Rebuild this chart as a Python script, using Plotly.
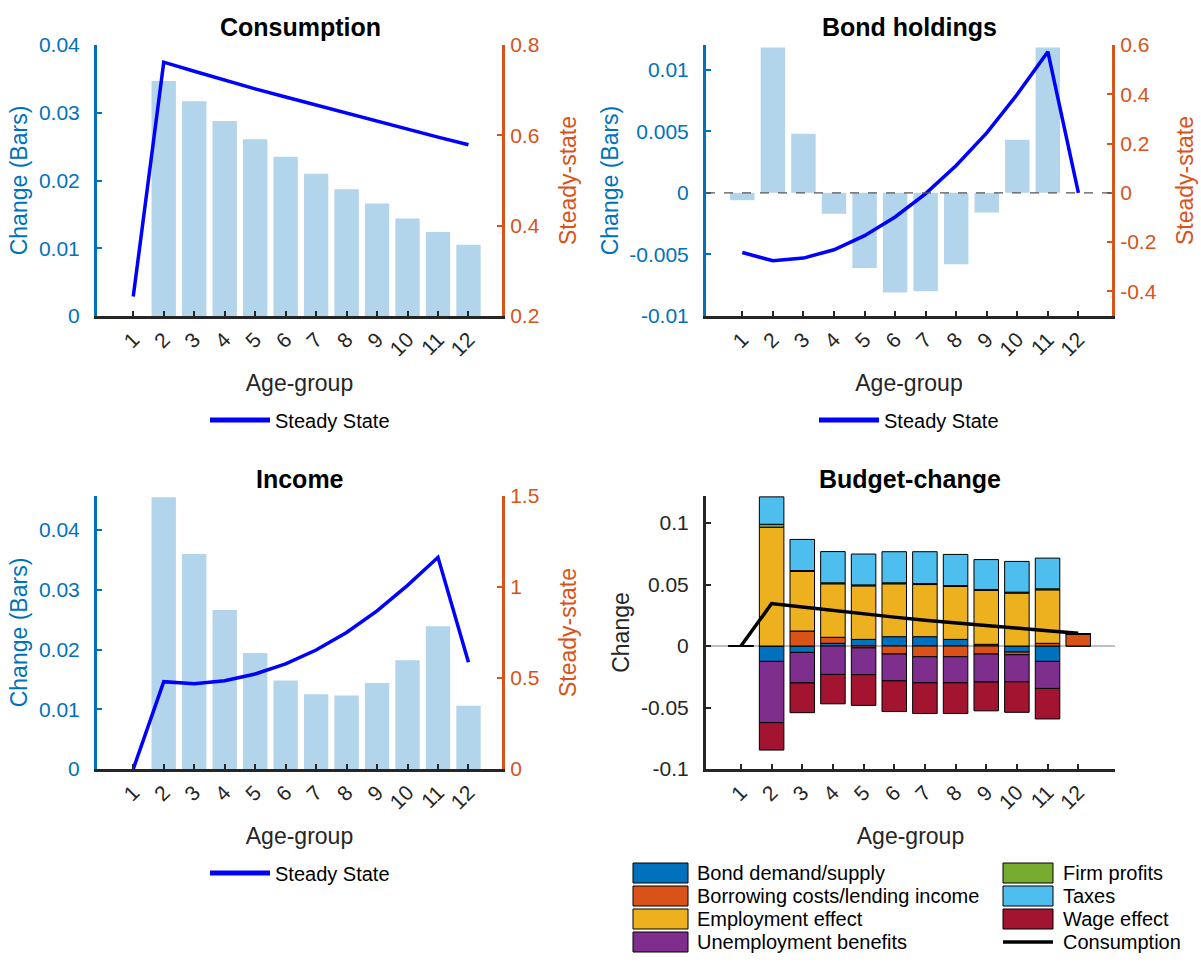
import plotly.graph_objects as go

# ---------------- data ----------------
ages = list(range(1, 13))
age_labels = [str(a) for a in ages]

# Consumption
cons_bar_x = list(range(2, 13))
cons_change = [0.0347, 0.0317, 0.0288, 0.0261, 0.0235, 0.0210, 0.0187, 0.0166, 0.0144, 0.0124, 0.0105]
cons_ss = [0.243, 0.762, 0.742, 0.722, 0.703, 0.685, 0.667, 0.649, 0.630, 0.613, 0.596, 0.579]

# Bond holdings
bond_bar_x = list(range(1, 12))
bond_change = [-0.0006, 0.0118, 0.0048, -0.0017, -0.0061, -0.0081, -0.0080, -0.0058, -0.0016, 0.0043, 0.0118]
bond_ss = [-0.242, -0.276, -0.265, -0.231, -0.174, -0.098, -0.003, 0.111, 0.243, 0.400, 0.573, 0.0]

# Income
inc_bar_x = list(range(2, 13))
inc_change = [0.0455, 0.0360, 0.0266, 0.0194, 0.0148, 0.0125, 0.0123, 0.0144, 0.0182, 0.0239, 0.0106]
inc_ss = [0.0, 0.480, 0.469, 0.485, 0.522, 0.578, 0.654, 0.750, 0.869, 1.009, 1.163, 0.587]

# Budget-change decomposition (age groups 1..12)
bud_bond = [0, -0.0125, -0.0052, 0.0022, 0.0054, 0.0076, 0.0076, 0.0054, 0.0014, -0.0049, -0.0125, 0]
bud_borrow = [0, 0, 0.0122, 0.0049, -0.0015, -0.0065, -0.0087, -0.0087, -0.0065, -0.0022, 0.0022, 0.0098]
bud_employ = [0, 0.0966, 0.0484, 0.0435, 0.0435, 0.0430, 0.0424, 0.0430, 0.0438, 0.0430, 0.0435, 0]
bud_unemp = [0, -0.0498, -0.0248, -0.0231, -0.0218, -0.0218, -0.0212, -0.0212, -0.0228, -0.0220, -0.0220, 0]
bud_firm = [0, 0.0024, 0.0008, 0.0008, 0.0008, 0.0008, 0.0008, 0.0008, 0.0008, 0.0008, 0.0008, 0]
bud_taxes = [0, 0.0223, 0.0253, 0.0254, 0.0251, 0.0253, 0.0259, 0.0253, 0.0243, 0.0250, 0.0250, 0]
bud_wage = [0, -0.0223, -0.0242, -0.0239, -0.0250, -0.0250, -0.0250, -0.0250, -0.0234, -0.0248, -0.0248, 0]
bud_cons = [0.0, 0.0345, 0.0317, 0.0288, 0.0261, 0.0235, 0.0210, 0.0187, 0.0166, 0.0144, 0.0124, 0.0103]

budget_names = ["Bond demand/supply", "Borrowing costs/lending income", "Employment effect",
                "Unemployment benefits", "Firm profits", "Taxes", "Wage effect"]
budget_values = [bud_bond, bud_borrow, bud_employ, bud_unemp, bud_firm, bud_taxes, bud_wage]
budget_colors = ["#0072BD", "#D95319", "#EDB120", "#7E2F8E", "#77AC30", "#4DBEEE", "#A2142F"]

# ---------------- style ----------------
W, H = 1201, 962
BLUE_AX = "#0072BD"
ORANGE_AX = "#D95319"
DARK = "#262626"
BAR_LIGHT = "#B3D5EB"
FONT = "Liberation Sans, Arial, Helvetica, sans-serif"
TICK_FS = 21
LABEL_FS = 23
TITLE_FS = 25
LEG_FS = 20


def xd(a, b):
    return [a / W, b / W]


def yd(top, bottom):
    return [1 - bottom / H, 1 - top / H]


def px(x):
    return x / W


def py(y):
    return 1 - y / H


def fmt(v):
    return "%g" % v


fig = go.Figure()

# Consumption
fig.add_trace(go.Bar(x=cons_bar_x, y=cons_change, width=0.8, marker=dict(color=BAR_LIGHT, line=dict(width=0)),
                     xaxis="x", yaxis="y", showlegend=False))
fig.add_trace(go.Scatter(x=ages, y=cons_ss, mode="lines", line=dict(color="#0000FF", width=3.5),
                         name="Steady State", xaxis="x", yaxis="y2", legend="legend"))

# Bond holdings
fig.add_trace(go.Bar(x=bond_bar_x, y=bond_change, width=0.8, marker=dict(color=BAR_LIGHT, line=dict(width=0)),
                     xaxis="x2", yaxis="y3", showlegend=False))
fig.add_trace(go.Scatter(x=ages, y=bond_ss, mode="lines", line=dict(color="#0000FF", width=3.5),
                         name="Steady State", xaxis="x2", yaxis="y4", legend="legend2"))

# Income
fig.add_trace(go.Bar(x=inc_bar_x, y=inc_change, width=0.8, marker=dict(color=BAR_LIGHT, line=dict(width=0)),
                     xaxis="x3", yaxis="y5", showlegend=False))
fig.add_trace(go.Scatter(x=ages, y=inc_ss, mode="lines", line=dict(color="#0000FF", width=3.5),
                         name="Steady State", xaxis="x3", yaxis="y6", legend="legend3"))

# Budget-change (stacked)
for name, vals, col in zip(budget_names, budget_values, budget_colors):
    fig.add_trace(go.Bar(x=ages, y=vals, width=0.8, name=name,
                         marker=dict(color=col, line=dict(color="#000000", width=1)),
                         xaxis="x4", yaxis="y7", showlegend=False))
fig.add_trace(go.Scatter(x=ages, y=bud_cons, mode="lines", line=dict(color="#000000", width=3.5),
                         name="Consumption", xaxis="x4", yaxis="y7", showlegend=False))


def xaxis_cfg(domain, anchor, rng):
    return dict(domain=domain, anchor=anchor, range=rng, tickmode="array", tickvals=ages, ticktext=age_labels,
                tickangle=-45, showline=True, linecolor=DARK, linewidth=3, ticks="inside", ticklen=5,
                tickwidth=1.5, tickcolor=DARK, tickfont=dict(size=TICK_FS, color=DARK, family=FONT),
                showgrid=False, zeroline=False, automargin=False,
                title=dict(text="Age-group", font=dict(size=LABEL_FS, color=DARK, family=FONT), standoff=16))


def yaxis_cfg(domain, anchor, rng, tv, color, title, side="left", overlaying=None):
    d = dict(domain=domain, anchor=anchor, range=rng, tickmode="array", tickvals=tv,
             ticktext=[fmt(v) for v in tv], showline=True, linecolor=color, linewidth=3,
             ticks="inside", ticklen=5, tickwidth=1.5, tickcolor=color,
             tickfont=dict(size=TICK_FS, color=color, family=FONT), showgrid=False, zeroline=False,
             side=side, ticklabelstandoff=(1 if side == "right" else 10), automargin=False,
             title=dict(text=title, font=dict(size=LABEL_FS, color=color, family=FONT),
                        standoff=(22 if side == "right" else 5)))
    if overlaying:
        d["overlaying"] = overlaying
    return d


XL = xd(97, 502)
XR = xd(706, 1112)
YT = yd(45, 316)
YB = yd(496, 769)

layout = dict(
    width=W, height=H, margin=dict(l=0, r=0, t=0, b=0, autoexpand=False),
    paper_bgcolor="white", plot_bgcolor="rgba(0,0,0,0)",
    barmode="relative", bargap=0.2,
    font=dict(family=FONT, color=DARK),
    xaxis=xaxis_cfg(XL, "y", [-0.19, 13.1]),
    yaxis=yaxis_cfg(YT, "x", [0, 0.04], [0, 0.01, 0.02, 0.03, 0.04], BLUE_AX, "Change (Bars)"),
    yaxis2=yaxis_cfg(YT, "x", [0.2, 0.8], [0.2, 0.4, 0.6, 0.8], ORANGE_AX, "Steady-state", side="right",
                     overlaying="y"),
    xaxis2=xaxis_cfg(XR, "y3", [-0.19, 13.1]),
    yaxis3=yaxis_cfg(YT, "x2", [-0.01, 0.012], [-0.01, -0.005, 0, 0.005, 0.01], BLUE_AX, "Change (Bars)"),
    yaxis4=yaxis_cfg(YT, "x2", [-0.5, 0.6], [-0.4, -0.2, 0, 0.2, 0.4, 0.6], ORANGE_AX, "Steady-state",
                     side="right", overlaying="y3"),
    xaxis3=xaxis_cfg(XL, "y5", [-0.19, 13.1]),
    yaxis5=yaxis_cfg(YB, "x3", [0, 0.0457], [0, 0.01, 0.02, 0.03, 0.04], BLUE_AX, "Change (Bars)"),
    yaxis6=yaxis_cfg(YB, "x3", [0, 1.5], [0, 0.5, 1, 1.5], ORANGE_AX, "Steady-state", side="right",
                     overlaying="y5"),
    xaxis4=xaxis_cfg(xd(706, 1115), "y7", [-0.14, 13.2]),
    yaxis7=yaxis_cfg(YB, "x4", [-0.1, 0.122], [-0.1, -0.05, 0, 0.05, 0.1], DARK, "Change"),
)

leg_common = dict(bgcolor="rgba(0,0,0,0)", font=dict(size=LEG_FS, color="#000000", family=FONT),
                  itemwidth=60, itemsizing="constant")
layout["legend"] = dict(x=px(300), y=py(420), xanchor="center", yanchor="middle", **leg_common)
layout["legend2"] = dict(x=px(909), y=py(420), xanchor="center", yanchor="middle", **leg_common)
layout["legend3"] = dict(x=px(300), y=py(873), xanchor="center", yanchor="middle", **leg_common)

fig.update_layout(**layout)

# subplot titles
titles = [("Consumption", 300, 27), ("Bond holdings", 909, 27), ("Income", 300, 479), ("Budget-change", 910, 479)]
for t, tx, ty in titles:
    fig.add_annotation(text="<b>%s</b>" % t, x=px(tx), y=py(ty), xref="paper", yref="paper",
                       showarrow=False, xanchor="center", yanchor="middle",
                       font=dict(size=TITLE_FS, color="#000000", family=FONT))

# zero reference lines
fig.add_shape(type="line", xref="x2 domain", yref="y3", x0=0, x1=1, y0=0, y1=0,
              line=dict(color="#555555", width=1.2, dash="dash"), layer="above")
fig.add_shape(type="line", xref="x4 domain", yref="y7", x0=0, x1=1, y0=0, y1=0,
              line=dict(color="#808080", width=1), layer="below")

# budget legend (two columns, MATLAB-style large swatches)
rows_y = [873, 896, 919, 942]
col_sw = [(633, 688), (1003, 1053)]
col_tx = [695, 1061]
for i, (name, col) in enumerate(zip(budget_names + ["Consumption"], budget_colors + [None])):
    c, r = divmod(i, 4)
    yc = rows_y[r]
    x0, x1 = col_sw[c]
    if col is not None:
        fig.add_shape(type="rect", xref="paper", yref="paper", x0=px(x0), x1=px(x1),
                      y0=py(yc + 10), y1=py(yc - 10), fillcolor=col, line=dict(color="#000000", width=1))
    else:
        fig.add_shape(type="line", xref="paper", yref="paper", x0=px(x0), x1=px(x1),
                      y0=py(yc), y1=py(yc), line=dict(color="#000000", width=3.5))
    fig.add_annotation(text=name, x=px(col_tx[c]), y=py(yc), xref="paper", yref="paper",
                       showarrow=False, xanchor="left", yanchor="middle",
                       font=dict(size=LEG_FS, color="#000000", family=FONT))

fig.write_html("out.html", config={"displayModeBar": False},
               post_script="document.body.style.margin='0px';")
